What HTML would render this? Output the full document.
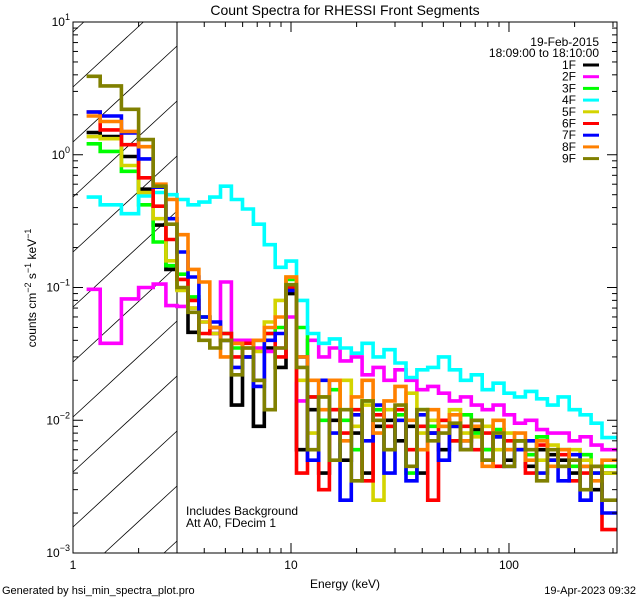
<!DOCTYPE html>
<html><head><meta charset="utf-8"><style>
html,body{margin:0;padding:0;background:#fff;width:640px;height:600px;overflow:hidden;}
svg{display:block;font-family:"Liberation Sans",sans-serif;overflow:hidden;}
</style></head><body>
<svg id="chart" width="640" height="600" viewBox="0 0 640 600" xmlns="http://www.w3.org/2000/svg">
<defs><clipPath id="plotclip"><rect x="73" y="22" width="544" height="531"/></clipPath></defs>
<rect x="0" y="0" width="640" height="600" fill="#fff"/>
<text x="345" y="15" font-size="14" text-anchor="middle">Count Spectra for RHESSI Front Segments</text>
<g id="hatch"></g>
<line x1="177" y1="22" x2="177" y2="553" stroke="#000" stroke-width="1"/>
<g id="series" clip-path="url(#plotclip)"></g>
<g id="axes"></g>
<text x="599" y="46" font-size="12" text-anchor="end">19-Feb-2015</text>
<text x="599" y="57" font-size="12" text-anchor="end">18:09:00 to 18:10:00</text>
<g id="legend"></g>
<text x="186" y="515" font-size="12">Includes Background</text>
<text x="186" y="527" font-size="12">Att A0, FDecim 1</text>
<text x="345" y="588" font-size="12" text-anchor="middle">Energy (keV)</text>
<text transform="translate(36,288) rotate(-90)" font-size="12" text-anchor="middle">counts cm<tspan dy="-5" font-size="9">−2</tspan><tspan dy="5"> s</tspan><tspan dy="-5" font-size="9">−1</tspan><tspan dy="5"> keV</tspan><tspan dy="-5" font-size="9">−1</tspan></text>
<text x="2" y="594" font-size="11">Generated by hsi_min_spectra_plot.pro</text>
<text x="636" y="594" font-size="11" text-anchor="end">19-Apr-2023 09:32</text>
</svg>
<script>
const edges=[1.155,1.333,1.667,2,2.333,2.667,3,3.37,3.78,4.24,4.75,5.33,5.99,6.72,7.54,8.46,9.49,10.6,11.9,13.4,15.0,16.8,18.9,21.2,23.8,26.7,30.0,33.7,37.8,42.4,47.5,53.3,59.9,67.2,75.4,84.6,94.9,106,119,134,150,168,189,212,238,267,313];
const segNames=["1F","2F","3F","4F","5F","6F","7F","8F","9F"];
const s1F=[1.47,1.37,0.97,0.55,0.295,0.137,0.097,0.046,0.06,0.045,0.04,0.013,0.03,0.009,0.035,0.025,0.09,0.006,0.012,0.004,0.01,0.005,0.008,0.004,0.009,0.01,0.007,0.009,0.004,0.008,0.006,0.009,0.007,0.0085,0.006,0.0075,0.005,0.007,0.0045,0.006,0.0055,0.005,0.004,0.0045,0.003,0.004];
const s2F=[0.097,0.038,0.082,0.1,0.106,0.073,0.072,0.07,0.055,0.045,0.11,0.04,0.04,0.035,0.033,0.035,0.06,0.014,0.04,0.03,0.035,0.028,0.03,0.022,0.025,0.02,0.024,0.02,0.017,0.018,0.016,0.014,0.015,0.013,0.012,0.013,0.011,0.0095,0.01,0.0085,0.008,0.008,0.007,0.0075,0.0065,0.006];
const s3F=[1.21,1.06,0.75,0.42,0.22,0.146,0.126,0.085,0.06,0.05,0.045,0.035,0.03,0.04,0.045,0.05,0.115,0.05,0.015,0.01,0.017,0.01,0.006,0.014,0.012,0.009,0.011,0.004,0.012,0.009,0.01,0.007,0.011,0.008,0.006,0.0085,0.006,0.007,0.0055,0.0075,0.005,0.006,0.0045,0.0055,0.004,0.0045];
const s4F=[0.48,0.42,0.36,0.49,0.52,0.5,0.46,0.42,0.44,0.48,0.58,0.46,0.39,0.3,0.21,0.142,0.158,0.08,0.045,0.038,0.041,0.035,0.032,0.038,0.03,0.034,0.027,0.021,0.024,0.025,0.03,0.024,0.02,0.022,0.017,0.019,0.016,0.015,0.0165,0.0145,0.013,0.015,0.012,0.011,0.0095,0.0074];
const s5F=[1.37,1.32,0.83,0.52,0.33,0.159,0.095,0.07,0.055,0.045,0.04,0.038,0.03,0.033,0.055,0.08,0.12,0.02,0.008,0.015,0.012,0.02,0.009,0.013,0.0025,0.012,0.01,0.016,0.008,0.01,0.009,0.012,0.008,0.0075,0.009,0.006,0.008,0.006,0.007,0.005,0.0065,0.0045,0.006,0.005,0.0045,0.004];
const s6F=[2.1,1.54,1.19,0.67,0.41,0.23,0.115,0.08,0.045,0.05,0.045,0.03,0.038,0.02,0.045,0.03,0.1,0.004,0.015,0.003,0.012,0.008,0.012,0.0035,0.011,0.009,0.012,0.006,0.009,0.0025,0.01,0.007,0.009,0.006,0.008,0.0045,0.007,0.006,0.004,0.0065,0.005,0.0055,0.0035,0.004,0.0045,0.0015];
const s7F=[2.1,1.96,1.46,0.93,0.57,0.33,0.185,0.12,0.06,0.055,0.04,0.025,0.03,0.018,0.04,0.045,0.095,0.03,0.005,0.02,0.008,0.0025,0.011,0.007,0.013,0.004,0.01,0.0035,0.011,0.008,0.005,0.009,0.006,0.01,0.005,0.0075,0.0045,0.006,0.007,0.004,0.005,0.0035,0.0055,0.0025,0.004,0.002];
const s8F=[1.96,1.78,1.5,1.15,0.6,0.46,0.25,0.137,0.11,0.05,0.03,0.038,0.035,0.04,0.05,0.06,0.12,0.03,0.02,0.012,0.02,0.007,0.015,0.02,0.008,0.014,0.018,0.01,0.006,0.012,0.009,0.011,0.007,0.009,0.0045,0.01,0.006,0.008,0.005,0.007,0.0045,0.006,0.005,0.0045,0.0035,0.005];
const s9F=[3.9,3.3,2.2,1.3,0.58,0.3,0.1,0.065,0.04,0.035,0.04,0.022,0.035,0.02,0.012,0.035,0.105,0.025,0.006,0.015,0.005,0.012,0.0035,0.014,0.01,0.006,0.013,0.0045,0.012,0.007,0.008,0.0095,0.006,0.01,0.005,0.008,0.0045,0.007,0.006,0.0035,0.006,0.0045,0.005,0.003,0.0045,0.0025];
const segColors=["#000000","#ff00ff","#00ff00","#00ffff","#d4d400","#ff0000","#0000ff","#ff8000","#808000"];
const xTickVals=[1,10,100];
const xTickLabels=["1","10","100"];
const yTickExps=[1,0,-1,-2,-3];

const NS="http://www.w3.org/2000/svg";
const L=73,R=617,T=22,B=553;
const XMIN=1,XMAX=313,YMIN=1e-3,YMAX=10;
function xs(e){return L+(R-L)*Math.log10(e/XMIN)/Math.log10(XMAX/XMIN);}
function ys(v){return B-(B-T)*Math.log10(v/YMIN)/Math.log10(YMAX/YMIN);}
function mk(tag,attrs,parent){const el=document.createElementNS(NS,tag);for(const k in attrs)el.setAttribute(k,attrs[k]);parent.appendChild(el);return el;}

// hatch lines clipped analytically to the region x in [L,177], y in [T,B]
const hatch=document.getElementById('hatch');
const HX1=177, slope=120/130;
for(let i=-12;i<14;i++){
  const yA=T+i*55+120; // y at x=L
  let xa=L, ya=yA, xb=HX1, yb=yA-slope*(HX1-L);
  if(ya>B){xa=L+(ya-B)/slope; ya=B;}
  if(yb<T){xb=L+(yA-T)/slope; yb=T;}
  if(xa>=xb||ya<T||yb>B) continue;
  const h=mk('line',{x1:xa.toFixed(1),y1:ya.toFixed(1),x2:xb.toFixed(1),y2:yb.toFixed(1),stroke:'#000','stroke-width':0.8},hatch);
  
  
}

const allSeries=[s1F,s2F,s3F,s4F,s5F,s6F,s7F,s8F,s9F];
const sg=document.getElementById('series');
allSeries.forEach((vals,si)=>{
  let d='';
  for(let i=0;i<vals.length;i++){
    const x0=xs(edges[i]),x1=xs(edges[i+1]),y=ys(vals[i]);
    d+=(i===0?'M':'L')+x0.toFixed(1)+','+y.toFixed(1)+'L'+x1.toFixed(1)+','+y.toFixed(1);
  }
  const p=mk('path',{d:d,fill:'none',stroke:segColors[si],'stroke-width':3.6,'stroke-linejoin':'miter'},sg);
  
  
});

const ax=document.getElementById('axes');
const frame=mk('rect',{x:L,y:T,width:R-L,height:B-T,fill:'none',stroke:'#000','stroke-width':1},ax);


for(let dec=1;dec<=100;dec*=10){
  for(let m=1;m<10;m++){
    const e=dec*m; if(e>XMAX) break;
    const x=xs(e); const len=m===1?10:5;
    const t1=mk('line',{x1:x,y1:B,x2:x,y2:B-len,stroke:'#000','stroke-width':1},ax);
    
    
    const t2=mk('line',{x1:x,y1:T,x2:x,y2:T+len,stroke:'#000','stroke-width':1},ax);
    
    
  }
}
xTickVals.forEach((v,i)=>{
  const t=mk('text',{x:xs(v),y:B+16,'font-size':12,'text-anchor':'middle'},ax);
  t.textContent=xTickLabels[i];
  
  
});
for(let ex=-3;ex<1;ex++){
  for(let m=1;m<10;m++){
    const v=m*Math.pow(10,ex); const y=ys(v); const len=m===1?10:5;
    const t1=mk('line',{x1:L,y1:y,x2:L+len,y2:y,stroke:'#000','stroke-width':1},ax);
    
    
    const t2=mk('line',{x1:R,y1:y,x2:R-len,y2:y,stroke:'#000','stroke-width':1},ax);
    
    
  }
}
yTickExps.forEach(ex=>{
  const y=ys(Math.pow(10,ex));
  const t=mk('text',{x:L-3,y:y+4,'font-size':12,'text-anchor':'end'},ax);
  
  
  const b=document.createElementNS(NS,'tspan');b.textContent='10';t.appendChild(b);
  const s=document.createElementNS(NS,'tspan');s.setAttribute('dy','-6');s.setAttribute('font-size','9');s.textContent=ex<0?'−'+(-ex):String(ex);t.appendChild(s);
});

const lg=document.getElementById('legend');
segNames.forEach((n,i)=>{
  const y=65+i*11.7;
  const t=mk('text',{x:576,y:y+4,'font-size':12,'text-anchor':'end'},lg);
  t.textContent=n;
  
  
  const l=mk('line',{x1:583,y1:y,x2:599,y2:y,stroke:segColors[i],'stroke-width':3},lg);
  
  
});
</script>
</body></html>
